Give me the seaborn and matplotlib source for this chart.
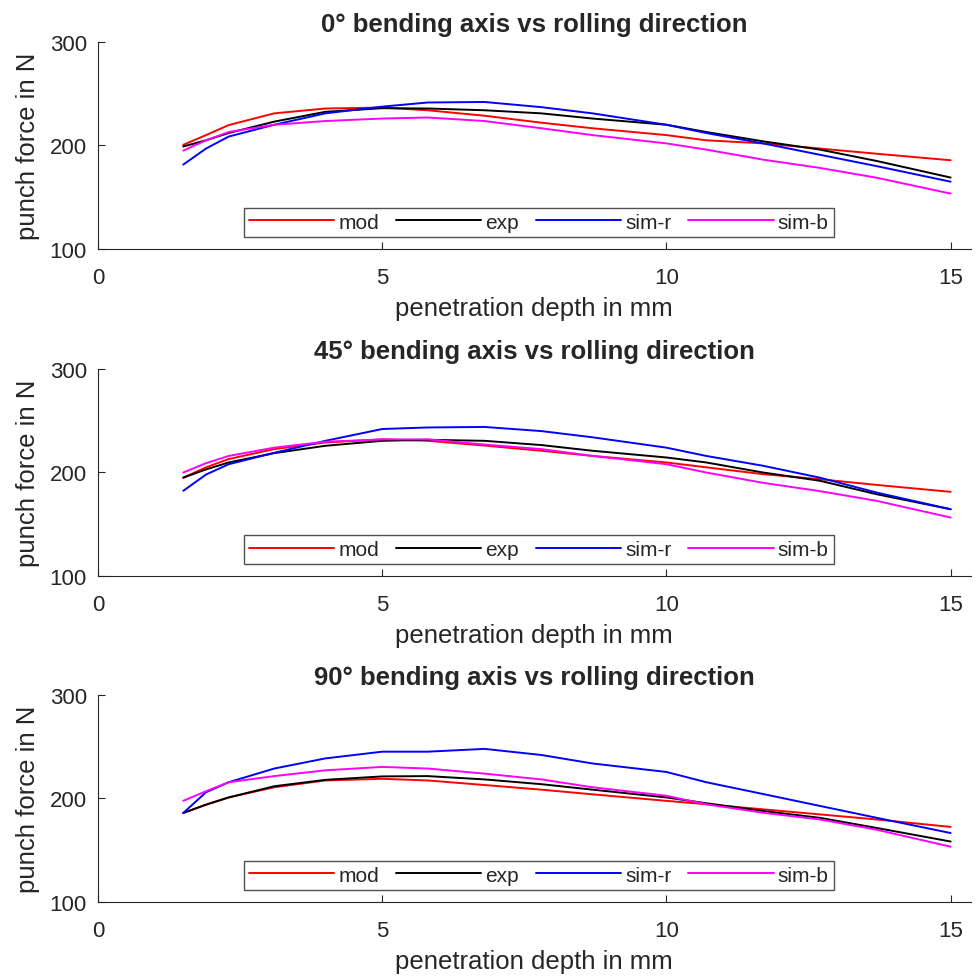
import pandas as pd
import matplotlib
matplotlib.use("Agg")
import matplotlib.pyplot as plt
import seaborn as sns

depth = [1.5, 1.9, 2.3, 3.1, 4.0, 5.0, 5.8, 6.8, 7.8, 8.7, 10.0, 10.7, 11.7, 12.7, 13.7, 15.0]

# 0 deg
mod_0 = [200.6, 210, 219.7, 231, 235.7, 236.6, 234, 228.7, 222, 216.6, 210, 205, 202, 197, 192, 185.7]
exp_0 = [199, 205, 212, 223, 232.5, 236, 235.7, 234, 231, 226, 220, 213, 204, 196, 185, 169]
simr_0 = [181.5, 197, 208.6, 220, 231, 237.5, 241.5, 242, 237, 231, 220, 212, 202, 191, 180, 165]
simb_0 = [195, 205, 213, 220, 223.6, 226, 227, 223.6, 216.6, 210, 202, 196, 186.3, 178.3, 168.8, 153.5]

# 45 deg
mod_45 = [195, 205, 213, 222.6, 229, 232, 230.6, 226, 221, 216, 209.7, 205, 198.4, 193.5, 188, 181.3]
exp_45 = [195, 203, 209.7, 218.7, 225.8, 230.6, 231.6, 230.6, 226.5, 221, 214.5, 209.7, 200, 192, 179, 164.5]
simr_45 = [182.3, 198, 208, 219, 230.6, 242, 243.5, 244, 240, 234, 224, 216, 206.5, 195, 180.6, 164.5]
simb_45 = [200, 209, 216, 224, 229.7, 232, 232, 227, 222.6, 216, 208, 200, 190, 182, 172.6, 156.5]

# 90 deg
mod_90 = [186, 194, 201, 210.8, 217.4, 219, 217.4, 213, 208.5, 204, 197.7, 194.4, 189.5, 184.6, 179.7, 172.5]
exp_90 = [186, 194, 201, 211.8, 218, 221.3, 221.6, 218.4, 213.8, 208.5, 201, 195.4, 187.9, 181.3, 171.5, 158.4]
simr_90 = [186, 206, 215.7, 228.9, 238.7, 245.2, 245.2, 247.9, 242, 233.8, 225.6, 215.7, 204.3, 192.8, 181.3, 166.6]
simb_90 = [197.7, 207, 215.7, 221.6, 227.2, 230.5, 228.9, 224, 218.4, 210.8, 202.6, 194.4, 186.2, 179.7, 169.8, 153.4]

angles = ["0°", "45°", "90°"]
series_names = ["mod", "exp", "sim-r", "sim-b"]
colors = {"mod": "#ff0000", "exp": "#000000", "sim-r": "#0000ff", "sim-b": "#ff00ff"}
panels = [
    [mod_0, exp_0, simr_0, simb_0],
    [mod_45, exp_45, simr_45, simb_45],
    [mod_90, exp_90, simr_90, simb_90],
]

sns.set_style("ticks")
plt.rcParams["font.family"] = ["Liberation Sans", "DejaVu Sans"]

fig = plt.figure(figsize=(9.76, 9.78), dpi=100)
bottoms = [0.7444, 0.41, 0.0767]
for angle, values, bottom in zip(angles, panels, bottoms):
    ax = fig.add_axes([0.1004, bottom, 0.894, 0.2117])
    rows = []
    for name, vals in zip(series_names, values):
        for d, v in zip(depth, vals):
            rows.append({"depth": d, "force": v, "series": name})
    df = pd.DataFrame(rows)
    sns.lineplot(data=df, x="depth", y="force", hue="series", palette=colors,
                 linewidth=1.4, ax=ax, legend=True)

    ax.set_xlim(0, 15.35)
    ax.set_ylim(100, 300)
    ax.set_xticks([0, 5, 10, 15])
    ax.set_yticks([100, 200, 300])
    ax.tick_params(direction="in", length=5, labelsize=16, colors="#262626")
    ax.tick_params(axis="x", pad=13)
    ax.tick_params(axis="y", pad=8)
    for side in ["left", "bottom"]:
        ax.spines[side].set_color("#262626")
    sns.despine(ax=ax)
    ax.set_xlabel("penetration depth in mm", fontsize=18.5, color="#262626", labelpad=6)
    ax.set_ylabel("punch force in N", fontsize=18.5, color="#262626", labelpad=7)
    ax.set_title(f"{angle} bending axis vs rolling direction", fontsize=18.5,
                 fontweight="bold", pad=8)

    handles, labels = ax.get_legend_handles_labels()
    leg = ax.legend(handles, labels, loc="lower center", bbox_to_anchor=(0.505, 0.058),
                    ncol=4, fontsize=15, handlelength=4.1, handletextpad=0.2,
                    columnspacing=0.8, frameon=True, fancybox=False,
                    borderpad=0.25, borderaxespad=0)
    leg.get_frame().set_edgecolor("#262626")
    leg.get_frame().set_linewidth(1.0)

fig.savefig("out.png", dpi=100)
